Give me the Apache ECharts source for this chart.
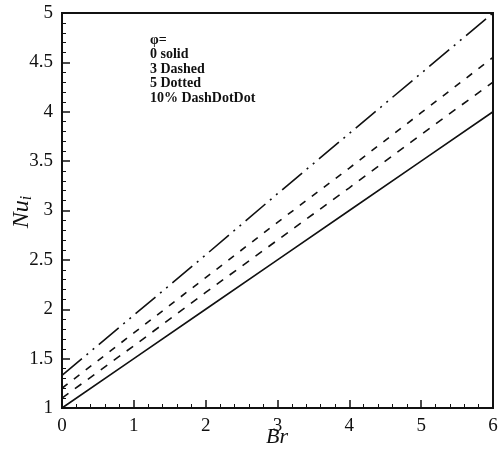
<!DOCTYPE html>
<html>
<head>
<meta charset="utf-8">
<script src="https://cdn.jsdelivr.net/npm/echarts@6/dist/echarts.min.js"></script>
<style>html,body{margin:0;padding:0;background:#fff;}#c{width:498px;height:450px;}</style>
</head>
<body>
<div id="c"></div>
<script>
var xValues = [0, 1, 2, 3, 4, 5, 6];
var phi0 = [1.0, 1.5, 2.0, 2.5, 3.0, 3.5, 4.0];
var phi3 = [1.1, 1.63, 2.17, 2.7, 3.23, 3.77, 4.3];
var phi5 = [1.2, 1.76, 2.32, 2.88, 3.43, 3.99, 4.55];
var phi10 = [1.33, 1.94, 2.55, 3.17, 3.78, 4.39, 5.0];
var legendLines = ['\u03c6=', '0 solid', '3 Dashed', '5 Dotted', '10% DashDotDot'];
var xTitle = 'Br';
var yTitleMain = 'Nu';
var yTitleSub = 'i';

function pairs(ys) { return xValues.map(function (x, i) { return [x, ys[i]]; }); }
var FONT = '"Liberation Serif", "Times New Roman", serif';

var chart = echarts.init(document.getElementById('c'), null, {renderer: 'canvas'});
var series = [
  {data: pairs(phi0), type: [1, 0]},
  {data: pairs(phi3), type: [8, 8]},
  {data: pairs(phi5), type: [7, 8]},
  {data: pairs(phi10), type: [26, 6, 2, 6, 2, 6]}
].map(function (s) {
  return {
    type: 'line', data: s.data, showSymbol: false, symbol: 'none', animation: false,
    lineStyle: {color: '#111', width: 1.6, type: s.type[1] === 0 ? 'solid' : s.type}
  };
});

var graphics = legendLines.map(function (t, i) {
  return {
    type: 'text', left: 150, top: 33 + i * 14.6, silent: true,
    style: {text: t, font: 'bold 14px ' + FONT, fill: '#111'}
  };
});
graphics.push({
  type: 'text', x: 277, y: 437, silent: true,
  style: {text: xTitle, font: 'italic 22px ' + FONT, fill: '#111', align: 'center', verticalAlign: 'middle'}
});
graphics.push({
  type: 'text', x: 22, y: 212, rotation: Math.PI / 2, silent: true,
  style: {
    text: '{a|' + yTitleMain + '}{b|' + yTitleSub + '}', align: 'center', verticalAlign: 'middle',
    rich: {
      a: {fontFamily: FONT, fontStyle: 'italic', fontSize: 24, fill: '#111'},
      b: {fontFamily: FONT, fontStyle: 'italic', fontSize: 16, fill: '#111', padding: [10, 0, 0, 0]}
    }
  }
});

chart.setOption({
  animation: false,
  backgroundColor: '#fff',
  grid: {left: 62, right: 5, top: 13, bottom: 42, containLabel: false, outerBoundsMode: 'none',
    show: true, borderColor: '#111', borderWidth: 2, backgroundColor: 'transparent'},
  xAxis: {
    type: 'value', min: 0, max: 6, interval: 1,
    axisLine: {show: true, onZero: false, lineStyle: {color: '#111', width: 2}},
    axisTick: {show: true, inside: true, length: 8, lineStyle: {color: '#111', width: 1.5}},
    minorTick: {show: true, splitNumber: 5, length: 4, lineStyle: {color: '#111', width: 1}},
    axisLabel: {fontFamily: FONT, fontSize: 19, color: '#111', margin: 9},
    splitLine: {show: false}
  },
  yAxis: {
    type: 'value', min: 1, max: 5, interval: 0.5,
    axisLine: {show: true, onZero: false, lineStyle: {color: '#111', width: 2}},
    axisTick: {show: true, inside: true, length: 8, lineStyle: {color: '#111', width: 1.5}},
    minorTick: {show: true, splitNumber: 5, length: 4, lineStyle: {color: '#111', width: 1}},
    axisLabel: {fontFamily: FONT, fontSize: 19, color: '#111', margin: 9},
    splitLine: {show: false}
  },
  series: series,
  graphic: graphics
});
</script>
</body>
</html>
